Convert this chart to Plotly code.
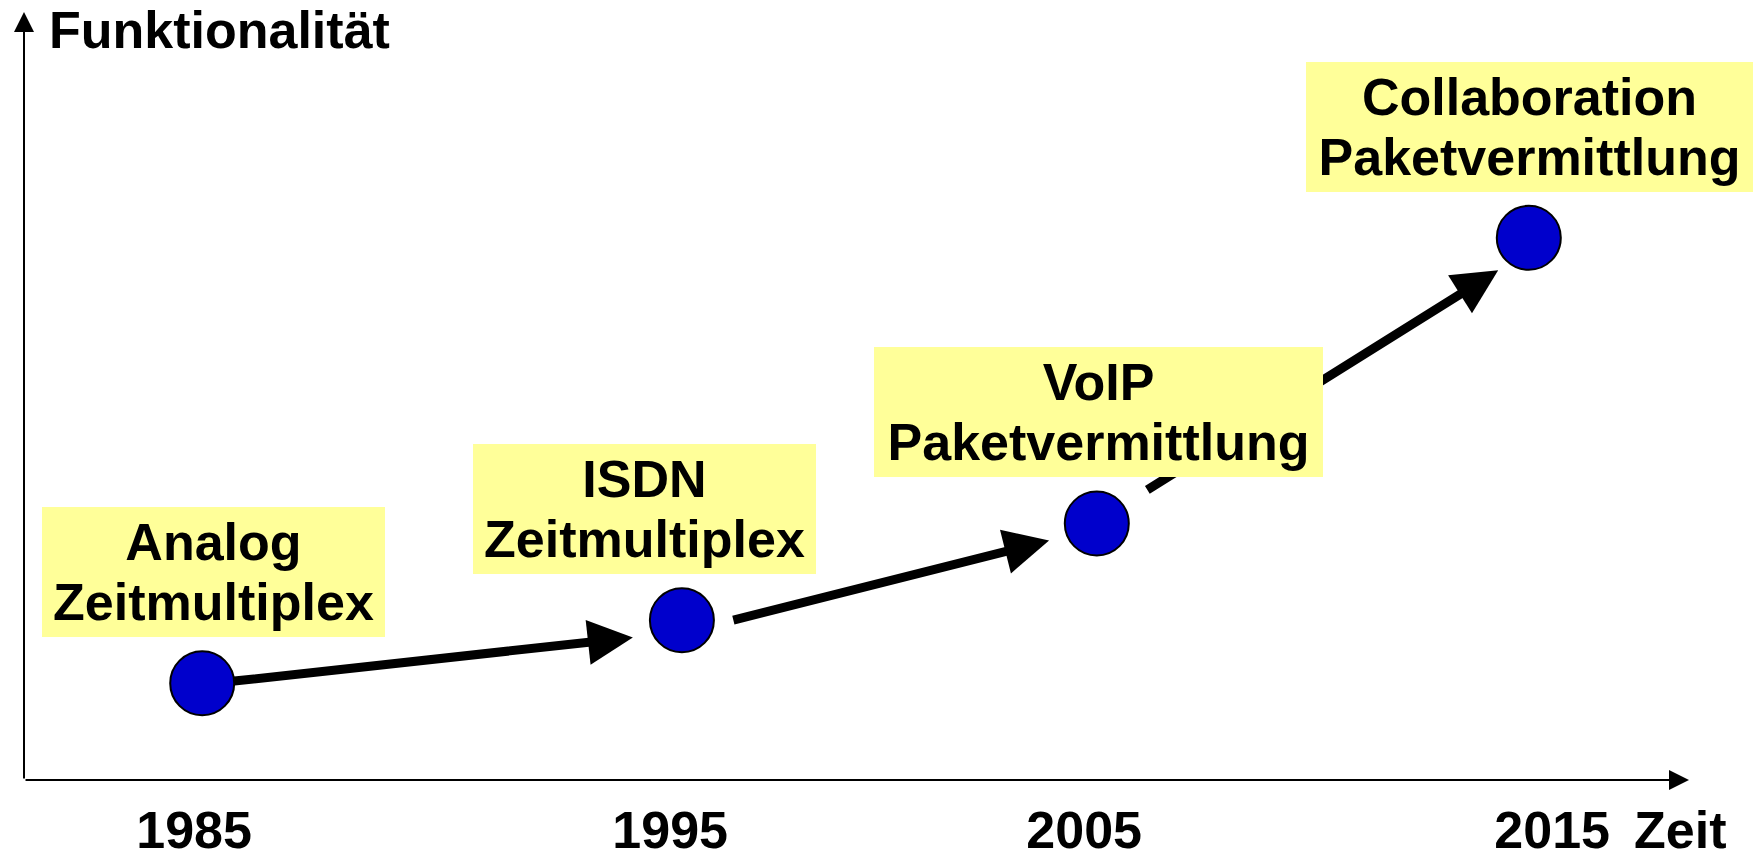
import plotly.graph_objects as go

# ---- data -------------------------------------------------------------
zeit_labels = ["1985", "1995", "2005", "2015"]
zeit_tick_pos = [1984.78, 1995.36, 2004.56, 2014.96]

stufen_zeile1 = ["Analog", "ISDN", "VoIP", "Collaboration"]
stufen_zeile2 = ["Zeitmultiplex", "Zeitmultiplex", "Paketvermittlung", "Paketvermittlung"]
stufen_zeit = [1984.96, 1995.62, 2004.84, 2014.44]
funktionalitaet = [1.26, 2.08, 3.34, 7.06]

# arrows between stages (start -> tip)
pfeil_von_x = [1985.64, 1996.73, 2005.93]
pfeil_von_y = [1.286, 2.078, 3.766]
pfeil_bis_x = [1994.53, 2003.78, 2013.76]
pfeil_bis_y = [1.857, 3.117, 6.636]

x_titel = "Zeit"
y_titel = "Funktionalität"

# ---- styling ------------------------------------------------------------
FONT = "Liberation Sans, Arial, Helvetica, sans-serif"
FS = 52
LINE_FS = 45.4          # controls the line spacing inside the yellow boxes
X_RANGE = [1981, 2018]
Y_RANGE = [0, 10]
label_xshift = [11, -37, 2, 1]
label_yshift = 111
label_width = [343, 343, 449, 447]
label_height = 130

fig = go.Figure()

fig.add_trace(go.Scatter(
    x=stufen_zeit, y=funktionalitaet, mode="markers",
    marker=dict(size=64, color="#0000CC", line=dict(color="black", width=2)),
    hoverinfo="skip", showlegend=False, cliponaxis=False,
))

annotations = []

# axes as arrows
annotations.append(dict(
    x=X_RANGE[1], y=Y_RANGE[0], ax=X_RANGE[0], ay=Y_RANGE[0],
    xref="x", yref="y", axref="x", ayref="y", text="", showarrow=True,
    arrowhead=2, arrowsize=2, arrowwidth=2, arrowcolor="black",
))
annotations.append(dict(
    x=X_RANGE[0], y=Y_RANGE[1], ax=X_RANGE[0], ay=Y_RANGE[0],
    xref="x", yref="y", axref="x", ayref="y", text="", showarrow=True,
    arrowhead=2, arrowsize=2, arrowwidth=2, arrowcolor="black",
))

# stage arrows
for x0, y0, x1, y1 in zip(pfeil_von_x, pfeil_von_y, pfeil_bis_x, pfeil_bis_y):
    annotations.append(dict(
        x=x1, y=y1, ax=x0, ay=y0, xref="x", yref="y", axref="x", ayref="y",
        text="", showarrow=True, arrowhead=2, arrowsize=1, arrowwidth=9,
        arrowcolor="black",
    ))

# stage labels
span = "<span style='font-size:%dpx'>%s</span>"
for i, (t1, t2, xv, yv) in enumerate(zip(stufen_zeile1, stufen_zeile2,
                                        stufen_zeit, funktionalitaet)):
    annotations.append(dict(
        x=xv, y=yv, xref="x", yref="y",
        text=(span % (FS, t1)) + "<br>" + (span % (FS, t2)),
        showarrow=False,
        xshift=label_xshift[i], yshift=label_yshift,
        xanchor="center", yanchor="middle",
        width=label_width[i], height=label_height,
        bgcolor="#FFFF99", borderpad=0, borderwidth=0,
        font=dict(family=FONT, size=LINE_FS, color="black", weight="bold"),
    ))

# axis titles
annotations.append(dict(
    x=2017.8, y=0, xref="x", yref="paper", text=x_titel, showarrow=False,
    xanchor="center", yanchor="top", yshift=-21, borderpad=0, borderwidth=0,
    font=dict(family=FONT, size=FS, color="black", weight="bold"),
))
annotations.append(dict(
    x=0.015, y=1, xref="paper", yref="paper", text=y_titel, showarrow=False,
    xanchor="left", yanchor="top", yshift=11, borderpad=0, borderwidth=0,
    font=dict(family=FONT, size=FS, color="black", weight="bold"),
))

fig.update_layout(
    width=1756, height=856,
    margin=dict(l=24, r=67, t=12, b=76),
    paper_bgcolor="white", plot_bgcolor="white",
    showlegend=False,
    annotations=annotations,
    xaxis=dict(range=X_RANGE, showgrid=False, zeroline=False, showline=False,
               ticks="", tickvals=zeit_tick_pos, ticktext=zeit_labels,
               ticklabelstandoff=15, automargin=False,
               tickfont=dict(family=FONT, size=FS, color="black", weight="bold"),
               fixedrange=True),
    yaxis=dict(range=Y_RANGE, showgrid=False, zeroline=False, showline=False,
               ticks="", showticklabels=False, automargin=False, fixedrange=True),
)

fig.write_html("out.html", config={"displayModeBar": False},
               post_script="document.body.style.margin='0px';")
